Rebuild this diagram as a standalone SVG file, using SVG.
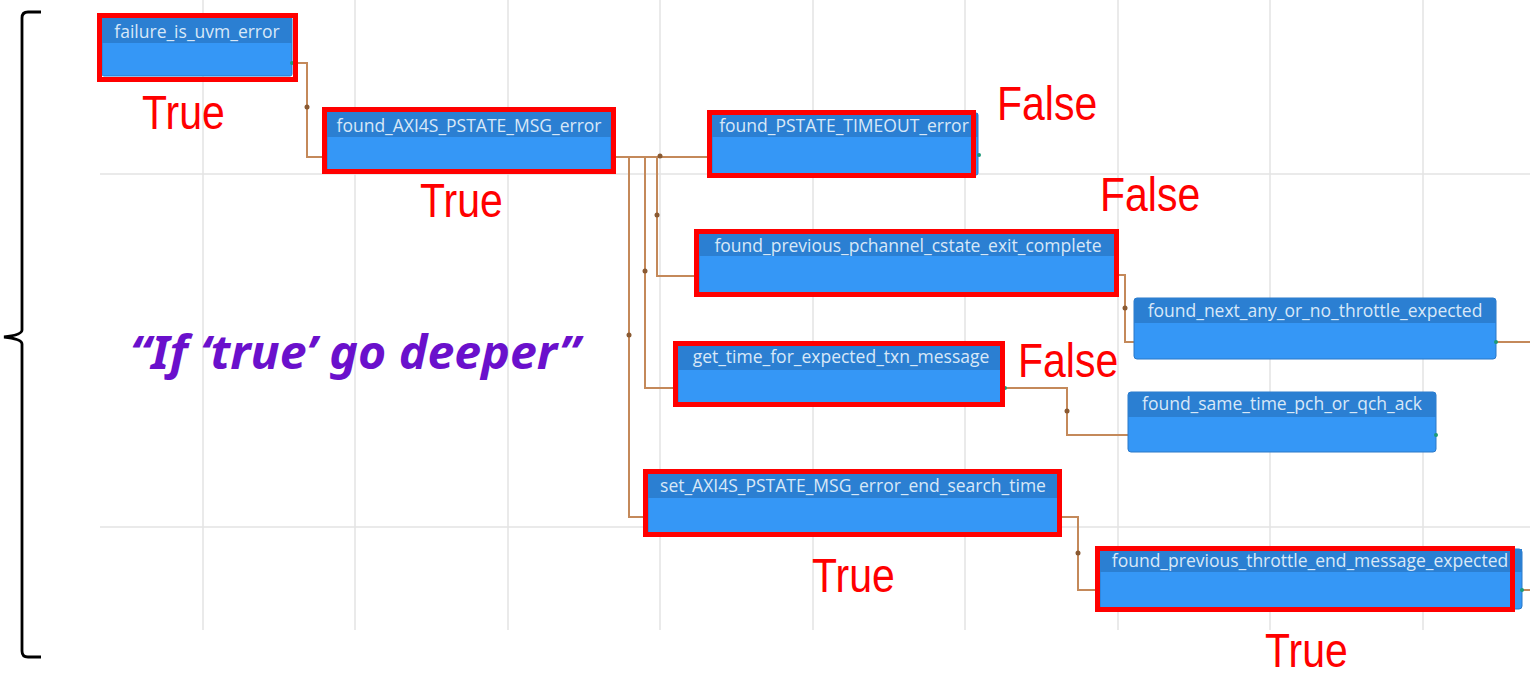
<svg xmlns="http://www.w3.org/2000/svg" width="1539" height="675" viewBox="0 0 1539 675">
  <style>
    .grid { stroke: #e4e4e4; stroke-width: 1.5; fill: none; }
    .body { fill: #3597f6; stroke: #2a78c8; stroke-width: 1; }
    .head { fill: #2b7fd2; }
    .name { font-family: "Open Sans", "Noto Sans", sans-serif; font-size: 17.5px; fill: #d8e8f8; text-anchor: middle; }
    .hl { fill: none; stroke: #ff0000; stroke-width: 5; }
    .wire { fill: none; stroke: #c4895a; stroke-width: 2; }
    .knot { fill: #8a5a32; }
    .port { fill: #1d9a78; }
    .verdict { font-family: "Liberation Sans", Arial, sans-serif; font-size: 41px; fill: #ff0000; }
    .note { font-family: "Noto Sans", "Open Sans", sans-serif; font-size: 46px; font-weight: bold; font-style: italic; fill: #6a10cc; }
  </style>

  <rect width="1539" height="675" fill="#ffffff"/>

  <!-- background grid -->
  <g id="grid" class="grid">
    <path d="M203,0V630 M355,0V630 M508,0V630 M660,0V630 M813,0V630 M965,0V630 M1118,0V630 M1270,0V630 M1423,0V630"/>
    <path d="M100,174H1530 M100,527H1530"/>
  </g>

  <!-- grouping brace -->
  <path id="brace" d="M41,12 H28 Q22,12 22,18 V330 Q22,335 4,337 Q22,339 22,344 V651 Q22,657 28,657 H41" fill="none" stroke="#000" stroke-width="2.8"/>

  <!-- connectors -->
  <g id="connectors">
    <path class="wire" d="M292,63 H307 V157 H327"/>
    <path class="wire" d="M611,157 H712"/>
    <path class="wire" d="M611,157 H657 V276 H699"/>
    <path class="wire" d="M611,157 H645 V388 H678"/>
    <path class="wire" d="M611,157 H629 V517 H648"/>
    <path class="wire" d="M1116,275 H1125 V342 H1134"/>
    <path class="wire" d="M1003,388 H1067 V435 H1128"/>
    <path class="wire" d="M1059,517 H1078 V590 H1100"/>
    <path class="wire" d="M1496,342 H1530"/>
    <path class="wire" d="M1522,590 H1530"/>
    <circle class="knot" cx="307" cy="107" r="2.5"/>
    <circle class="knot" cx="660" cy="156" r="2.5"/>
    <circle class="knot" cx="657" cy="215" r="2.5"/>
    <circle class="knot" cx="645" cy="271" r="2.5"/>
    <circle class="knot" cx="629" cy="335" r="2.5"/>
    <circle class="knot" cx="1125" cy="308" r="2.5"/>
    <circle class="knot" cx="1067" cy="411" r="2.5"/>
    <circle class="knot" cx="1078" cy="553" r="2.5"/>
  </g>

  <!-- nodes -->
  <g id="failure_is_uvm_error">
    <rect class="body" x="102" y="17" width="190" height="59" rx="2"/>
    <rect class="head" x="102" y="17" width="190" height="26"/>
    <text class="name" x="197" y="38">failure_is_uvm_error</text>
    <circle class="port" cx="292" cy="63" r="2"/>
    <rect class="hl" x="99.5" y="15.5" width="196" height="64"/>
  </g>

  <g id="found_AXI4S_PSTATE_MSG_error">
    <rect class="body" x="327" y="112" width="284" height="58" rx="2"/>
    <rect class="head" x="327" y="112" width="284" height="25"/>
    <text class="name" x="469" y="132">found_AXI4S_PSTATE_MSG_error</text>
    <rect class="hl" x="324.5" y="109.5" width="289" height="62"/>
  </g>

  <g id="found_PSTATE_TIMEOUT_error">
    <rect class="body" x="712" y="113" width="266" height="62" rx="2"/>
    <rect class="head" x="712" y="113" width="266" height="24"/>
    <text class="name" x="844" y="132">found_PSTATE_TIMEOUT_error</text>
    <circle class="port" cx="979" cy="155" r="2"/>
    <rect class="hl" x="709.5" y="112.5" width="264" height="63"/>
  </g>

  <g id="found_previous_pchannel_cstate_exit_complete">
    <rect class="body" x="699" y="233" width="417" height="60" rx="2"/>
    <rect class="head" x="699" y="233" width="417" height="23"/>
    <text class="name" x="908" y="252">found_previous_pchannel_cstate_exit_complete</text>
    <rect class="hl" x="696.5" y="231.5" width="420" height="63"/>
  </g>

  <g id="get_time_for_expected_txn_message">
    <rect class="body" x="678" y="345" width="325" height="59" rx="2"/>
    <rect class="head" x="678" y="345" width="325" height="25"/>
    <text class="name" x="841" y="363">get_time_for_expected_txn_message</text>
    <circle class="port" cx="1005" cy="388" r="2"/>
    <rect class="hl" x="675.5" y="343.5" width="327" height="61"/>
  </g>

  <g id="set_AXI4S_PSTATE_MSG_error_end_search_time">
    <rect class="body" x="648" y="473" width="411" height="61" rx="2"/>
    <rect class="head" x="648" y="473" width="411" height="25"/>
    <text class="name" x="853" y="492">set_AXI4S_PSTATE_MSG_error_end_search_time</text>
    <rect class="hl" x="645.5" y="471.5" width="414" height="63"/>
  </g>

  <g id="found_next_any_or_no_throttle_expected">
    <rect class="body" x="1134" y="298" width="362" height="61" rx="3"/>
    <path class="head" d="M1137,298 H1493 Q1496,298 1496,301 V323 H1134 V301 Q1134,298 1137,298 Z"/>
    <text class="name" x="1315" y="317">found_next_any_or_no_throttle_expected</text>
    <circle class="port" cx="1496" cy="342" r="2"/>
  </g>

  <g id="found_same_time_pch_or_qch_ack">
    <rect class="body" x="1128" y="392" width="308" height="60" rx="3"/>
    <path class="head" d="M1131,392 H1433 Q1436,392 1436,395 V417 H1128 V395 Q1128,392 1131,392 Z"/>
    <text class="name" x="1282" y="410">found_same_time_pch_or_qch_ack</text>
    <circle class="port" cx="1436" cy="435" r="2"/>
  </g>

  <g id="found_previous_throttle_end_message_expected">
    <rect class="body" x="1100" y="549" width="422" height="60" rx="3"/>
    <rect class="head" x="1100" y="549" width="422" height="23"/>
    <text class="name" x="1310" y="567">found_previous_throttle_end_message_expected</text>
    <circle class="port" cx="1522" cy="590" r="2"/>
    <rect class="hl" x="1097.5" y="548.5" width="415" height="61"/>
  </g>

  <!-- outcome labels (slightly tall lettering) -->
  <g id="labels">
    <text class="verdict" transform="translate(142,129) scale(1,1.15)">True</text>
    <text class="verdict" transform="translate(420,217) scale(1,1.15)">True</text>
    <text class="verdict" transform="translate(997,120) scale(1,1.15)">False</text>
    <text class="verdict" transform="translate(1100,211) scale(1,1.15)">False</text>
    <text class="verdict" transform="translate(1018,377) scale(1,1.15)">False</text>
    <text class="verdict" transform="translate(812,592) scale(1,1.15)">True</text>
    <text class="verdict" transform="translate(1265,667) scale(1,1.15)">True</text>
    <text class="note" x="130" y="369" textLength="450" lengthAdjust="spacingAndGlyphs">“If ‘true’ go deeper”</text>
  </g>
</svg>
